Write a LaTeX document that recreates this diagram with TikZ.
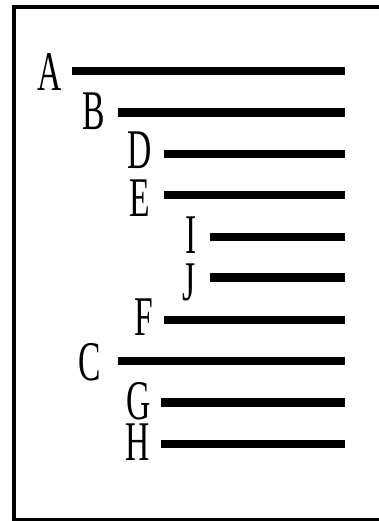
\documentclass[tikz,border=0pt]{standalone}
\usepackage{fontspec}
\newfontfamily\lblfont{Liberation Serif}
\begin{document}
\begin{tikzpicture}[x=1pt,y=-1pt,
  lbl/.style={anchor=base,inner sep=0pt,text height=36pt,text depth=0pt,font=\lblfont\fontsize{56}{56}\selectfont},
  bar/.style={line width=8.5pt},
  frame/.style={line width=4pt}]
\useasboundingbox (0,0) rectangle (379,521);
% frame (right side outside the picture)
\draw[frame] (383,7) -- (14,7) -- (14,519.5) -- (383,519.5);
% labels
\node[lbl] (A) at (49.5,91) {\scalebox{0.6}[1]{A}};
\node[lbl] (B) at (94,130) {\scalebox{0.6}[1]{B}};
\node[lbl] (D) at (139.5,169) {\scalebox{0.6}[1]{D}};
\node[lbl] (E) at (139.5,216) {\scalebox{0.6}[1]{E}};
\node[lbl] (I) at (191,253) {\scalebox{0.6}[1]{I}};
\node[lbl] (J) at (189,300) {\scalebox{0.6}[1]{J}};
\node[lbl] (F) at (143.5,335) {\scalebox{0.6}[1]{F}};
\node[lbl] (C) at (89.5,380) {\scalebox{0.6}[1]{C}};
\node[lbl] (G) at (139,419) {\scalebox{0.6}[1]{G}};
\node[lbl] (H) at (137.5,460) {\scalebox{0.6}[1]{H}};
% bars
\foreach \n/\y/\x in {a/71/72, b/112.5/118, d/154/164, e/195/164, i/237/210, j/277.5/210, f/320/164, c/361/118, g/402.5/161, h/444/161}{
  \coordinate (\n s) at (\x,\y);
  \coordinate (\n e) at (345,\y);
  \draw[bar] (\n s) -- (\n e);
}
\end{tikzpicture}
\end{document}
